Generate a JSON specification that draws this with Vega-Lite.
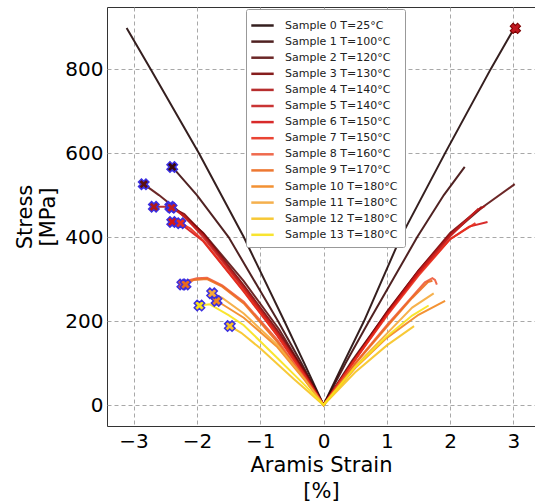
{
  "$schema": "https://vega.github.io/schema/vega-lite/v6.json",
  "width": 428,
  "height": 419,
  "autosize": {"type": "none"},
  "padding": {"left": 107, "top": 7, "right": 0, "bottom": 78},
  "background": "white",
  "config": {
    "font": "DejaVu Sans",
    "view": {"stroke": "#333333", "strokeWidth": 1},
    "axis": {
      "labelFont": "DejaVu Sans",
      "titleFont": "DejaVu Sans",
      "labelFontSize": 20,
      "titleFontSize": 21,
      "titleFontWeight": "normal",
      "labelColor": "#000000",
      "titleColor": "#000000",
      "domain": false,
      "ticks": false,
      "gridColor": "#a8a8a8",
      "gridDash": [4, 3],
      "gridWidth": 1
    }
  },
  "datasets": {
    "curves": [
      {"sample": "Sample 0 T=25°C", "strain": -3.11, "stress": 898},
      {"sample": "Sample 0 T=25°C", "strain": -2.73, "stress": 800},
      {"sample": "Sample 0 T=25°C", "strain": -1.97, "stress": 600},
      {"sample": "Sample 0 T=25°C", "strain": -1.26, "stress": 400},
      {"sample": "Sample 0 T=25°C", "strain": -0.62, "stress": 200},
      {"sample": "Sample 0 T=25°C", "strain": -0.3, "stress": 98},
      {"sample": "Sample 0 T=25°C", "strain": 0, "stress": 0},
      {"sample": "Sample 0 T=25°C", "strain": 0.3, "stress": 95},
      {"sample": "Sample 0 T=25°C", "strain": 0.64, "stress": 200},
      {"sample": "Sample 0 T=25°C", "strain": 1.22, "stress": 400},
      {"sample": "Sample 0 T=25°C", "strain": 1.92, "stress": 600},
      {"sample": "Sample 0 T=25°C", "strain": 2.64, "stress": 800},
      {"sample": "Sample 0 T=25°C", "strain": 3.01, "stress": 897},

      {"sample": "Sample 1 T=100°C", "strain": -2.39, "stress": 567},
      {"sample": "Sample 1 T=100°C", "strain": -2.0, "stress": 500},
      {"sample": "Sample 1 T=100°C", "strain": -1.5, "stress": 400},
      {"sample": "Sample 1 T=100°C", "strain": -0.72, "stress": 200},
      {"sample": "Sample 1 T=100°C", "strain": -0.35, "stress": 100},
      {"sample": "Sample 1 T=100°C", "strain": 0, "stress": 0},
      {"sample": "Sample 1 T=100°C", "strain": 0.35, "stress": 100},
      {"sample": "Sample 1 T=100°C", "strain": 0.72, "stress": 200},
      {"sample": "Sample 1 T=100°C", "strain": 1.48, "stress": 400},
      {"sample": "Sample 1 T=100°C", "strain": 1.9, "stress": 500},
      {"sample": "Sample 1 T=100°C", "strain": 2.23, "stress": 567},

      {"sample": "Sample 2 T=120°C", "strain": -2.84, "stress": 526},
      {"sample": "Sample 2 T=120°C", "strain": -2.6, "stress": 500},
      {"sample": "Sample 2 T=120°C", "strain": -2.35, "stress": 470},
      {"sample": "Sample 2 T=120°C", "strain": -1.9, "stress": 410},
      {"sample": "Sample 2 T=120°C", "strain": -1.26, "stress": 295},
      {"sample": "Sample 2 T=120°C", "strain": -0.7, "stress": 180},
      {"sample": "Sample 2 T=120°C", "strain": -0.3, "stress": 80},
      {"sample": "Sample 2 T=120°C", "strain": 0, "stress": 0},
      {"sample": "Sample 2 T=120°C", "strain": 0.45, "stress": 105},
      {"sample": "Sample 2 T=120°C", "strain": 1.0, "stress": 220},
      {"sample": "Sample 2 T=120°C", "strain": 1.5, "stress": 320},
      {"sample": "Sample 2 T=120°C", "strain": 2.0, "stress": 405},
      {"sample": "Sample 2 T=120°C", "strain": 2.5, "stress": 470},
      {"sample": "Sample 2 T=120°C", "strain": 3.02, "stress": 526},

      {"sample": "Sample 3 T=130°C", "strain": -2.42, "stress": 472},
      {"sample": "Sample 3 T=130°C", "strain": -2.2, "stress": 455},
      {"sample": "Sample 3 T=130°C", "strain": -1.9, "stress": 408},
      {"sample": "Sample 3 T=130°C", "strain": -1.26, "stress": 285},
      {"sample": "Sample 3 T=130°C", "strain": -0.73, "stress": 178},
      {"sample": "Sample 3 T=130°C", "strain": -0.3, "stress": 80},
      {"sample": "Sample 3 T=130°C", "strain": 0, "stress": 0},
      {"sample": "Sample 3 T=130°C", "strain": 0.5, "stress": 112},
      {"sample": "Sample 3 T=130°C", "strain": 1.0, "stress": 222},
      {"sample": "Sample 3 T=130°C", "strain": 1.5, "stress": 320},
      {"sample": "Sample 3 T=130°C", "strain": 2.0, "stress": 410},
      {"sample": "Sample 3 T=130°C", "strain": 2.5, "stress": 472},

      {"sample": "Sample 4 T=140°C", "strain": -2.68, "stress": 472},
      {"sample": "Sample 4 T=140°C", "strain": -2.5, "stress": 472},
      {"sample": "Sample 4 T=140°C", "strain": -2.3, "stress": 462},
      {"sample": "Sample 4 T=140°C", "strain": -1.9, "stress": 405},
      {"sample": "Sample 4 T=140°C", "strain": -1.26, "stress": 280},
      {"sample": "Sample 4 T=140°C", "strain": -0.73, "stress": 172},
      {"sample": "Sample 4 T=140°C", "strain": -0.3, "stress": 75},
      {"sample": "Sample 4 T=140°C", "strain": 0, "stress": 0},
      {"sample": "Sample 4 T=140°C", "strain": 0.5, "stress": 110},
      {"sample": "Sample 4 T=140°C", "strain": 1.0, "stress": 218},
      {"sample": "Sample 4 T=140°C", "strain": 1.5, "stress": 318},
      {"sample": "Sample 4 T=140°C", "strain": 2.0, "stress": 405},
      {"sample": "Sample 4 T=140°C", "strain": 2.4, "stress": 460},
      {"sample": "Sample 4 T=140°C", "strain": 2.55, "stress": 474},

      {"sample": "Sample 5 T=140°C", "strain": -2.4, "stress": 470},
      {"sample": "Sample 5 T=140°C", "strain": -2.2, "stress": 450},
      {"sample": "Sample 5 T=140°C", "strain": -1.9, "stress": 400},
      {"sample": "Sample 5 T=140°C", "strain": -1.26, "stress": 278},
      {"sample": "Sample 5 T=140°C", "strain": -0.73, "stress": 170},
      {"sample": "Sample 5 T=140°C", "strain": -0.3, "stress": 72},
      {"sample": "Sample 5 T=140°C", "strain": 0, "stress": 0},
      {"sample": "Sample 5 T=140°C", "strain": 0.5, "stress": 108},
      {"sample": "Sample 5 T=140°C", "strain": 1.0, "stress": 215},
      {"sample": "Sample 5 T=140°C", "strain": 1.5, "stress": 315},
      {"sample": "Sample 5 T=140°C", "strain": 2.0, "stress": 402},
      {"sample": "Sample 5 T=140°C", "strain": 2.45, "stress": 468},

      {"sample": "Sample 6 T=150°C", "strain": -2.39, "stress": 436},
      {"sample": "Sample 6 T=150°C", "strain": -2.2, "stress": 425},
      {"sample": "Sample 6 T=150°C", "strain": -1.9, "stress": 390},
      {"sample": "Sample 6 T=150°C", "strain": -1.26, "stress": 270},
      {"sample": "Sample 6 T=150°C", "strain": -0.73, "stress": 165},
      {"sample": "Sample 6 T=150°C", "strain": -0.3, "stress": 70},
      {"sample": "Sample 6 T=150°C", "strain": 0, "stress": 0},
      {"sample": "Sample 6 T=150°C", "strain": 0.5, "stress": 110},
      {"sample": "Sample 6 T=150°C", "strain": 1.0, "stress": 215},
      {"sample": "Sample 6 T=150°C", "strain": 1.5, "stress": 312},
      {"sample": "Sample 6 T=150°C", "strain": 2.0, "stress": 395},
      {"sample": "Sample 6 T=150°C", "strain": 2.3, "stress": 425},
      {"sample": "Sample 6 T=150°C", "strain": 2.59, "stress": 436},

      {"sample": "Sample 7 T=150°C", "strain": -2.26, "stress": 433},
      {"sample": "Sample 7 T=150°C", "strain": -2.1, "stress": 420},
      {"sample": "Sample 7 T=150°C", "strain": -1.9, "stress": 392},
      {"sample": "Sample 7 T=150°C", "strain": -1.26, "stress": 272},
      {"sample": "Sample 7 T=150°C", "strain": -0.73, "stress": 166},
      {"sample": "Sample 7 T=150°C", "strain": -0.3, "stress": 70},
      {"sample": "Sample 7 T=150°C", "strain": 0, "stress": 0},
      {"sample": "Sample 7 T=150°C", "strain": 0.5, "stress": 108},
      {"sample": "Sample 7 T=150°C", "strain": 1.0, "stress": 212},
      {"sample": "Sample 7 T=150°C", "strain": 1.5, "stress": 308},
      {"sample": "Sample 7 T=150°C", "strain": 2.0, "stress": 395},
      {"sample": "Sample 7 T=150°C", "strain": 2.4, "stress": 433},

      {"sample": "Sample 8 T=160°C", "strain": -2.23, "stress": 287},
      {"sample": "Sample 8 T=160°C", "strain": -2.15, "stress": 296},
      {"sample": "Sample 8 T=160°C", "strain": -2.0, "stress": 302},
      {"sample": "Sample 8 T=160°C", "strain": -1.84, "stress": 303},
      {"sample": "Sample 8 T=160°C", "strain": -1.6, "stress": 285},
      {"sample": "Sample 8 T=160°C", "strain": -1.26, "stress": 246},
      {"sample": "Sample 8 T=160°C", "strain": -0.73, "stress": 155},
      {"sample": "Sample 8 T=160°C", "strain": -0.3, "stress": 65},
      {"sample": "Sample 8 T=160°C", "strain": 0, "stress": 0},
      {"sample": "Sample 8 T=160°C", "strain": 0.5, "stress": 100},
      {"sample": "Sample 8 T=160°C", "strain": 1.0, "stress": 190},
      {"sample": "Sample 8 T=160°C", "strain": 1.4, "stress": 258},
      {"sample": "Sample 8 T=160°C", "strain": 1.6, "stress": 292},
      {"sample": "Sample 8 T=160°C", "strain": 1.72, "stress": 302},
      {"sample": "Sample 8 T=160°C", "strain": 1.76, "stress": 298},
      {"sample": "Sample 8 T=160°C", "strain": 1.79, "stress": 287},

      {"sample": "Sample 9 T=170°C", "strain": -2.18, "stress": 287},
      {"sample": "Sample 9 T=170°C", "strain": -2.05, "stress": 298},
      {"sample": "Sample 9 T=170°C", "strain": -1.84, "stress": 300},
      {"sample": "Sample 9 T=170°C", "strain": -1.6, "stress": 282},
      {"sample": "Sample 9 T=170°C", "strain": -1.26, "stress": 242},
      {"sample": "Sample 9 T=170°C", "strain": -0.73, "stress": 150},
      {"sample": "Sample 9 T=170°C", "strain": -0.3, "stress": 62},
      {"sample": "Sample 9 T=170°C", "strain": 0, "stress": 0},
      {"sample": "Sample 9 T=170°C", "strain": 0.5, "stress": 98},
      {"sample": "Sample 9 T=170°C", "strain": 1.0, "stress": 186},
      {"sample": "Sample 9 T=170°C", "strain": 1.4, "stress": 255},
      {"sample": "Sample 9 T=170°C", "strain": 1.65, "stress": 293},
      {"sample": "Sample 9 T=170°C", "strain": 1.72, "stress": 296},

      {"sample": "Sample 10 T=180°C", "strain": -1.69, "stress": 248},
      {"sample": "Sample 10 T=180°C", "strain": -1.6, "stress": 240},
      {"sample": "Sample 10 T=180°C", "strain": -1.26, "stress": 208},
      {"sample": "Sample 10 T=180°C", "strain": -0.73, "stress": 138},
      {"sample": "Sample 10 T=180°C", "strain": -0.3, "stress": 60},
      {"sample": "Sample 10 T=180°C", "strain": 0, "stress": 0},
      {"sample": "Sample 10 T=180°C", "strain": 0.5, "stress": 88},
      {"sample": "Sample 10 T=180°C", "strain": 1.0, "stress": 160},
      {"sample": "Sample 10 T=180°C", "strain": 1.5, "stress": 215},
      {"sample": "Sample 10 T=180°C", "strain": 1.92, "stress": 248},

      {"sample": "Sample 11 T=180°C", "strain": -1.76, "stress": 266},
      {"sample": "Sample 11 T=180°C", "strain": -1.6, "stress": 255},
      {"sample": "Sample 11 T=180°C", "strain": -1.26, "stress": 218},
      {"sample": "Sample 11 T=180°C", "strain": -0.73, "stress": 143},
      {"sample": "Sample 11 T=180°C", "strain": -0.3, "stress": 62},
      {"sample": "Sample 11 T=180°C", "strain": 0, "stress": 0},
      {"sample": "Sample 11 T=180°C", "strain": 0.5, "stress": 92},
      {"sample": "Sample 11 T=180°C", "strain": 1.0, "stress": 170},
      {"sample": "Sample 11 T=180°C", "strain": 1.4, "stress": 232},
      {"sample": "Sample 11 T=180°C", "strain": 1.74, "stress": 266},

      {"sample": "Sample 12 T=180°C", "strain": -1.48, "stress": 188},
      {"sample": "Sample 12 T=180°C", "strain": -1.3, "stress": 172},
      {"sample": "Sample 12 T=180°C", "strain": -1.0, "stress": 135},
      {"sample": "Sample 12 T=180°C", "strain": -0.47, "stress": 62},
      {"sample": "Sample 12 T=180°C", "strain": 0, "stress": 0},
      {"sample": "Sample 12 T=180°C", "strain": 0.5, "stress": 78},
      {"sample": "Sample 12 T=180°C", "strain": 1.0, "stress": 142},
      {"sample": "Sample 12 T=180°C", "strain": 1.43, "stress": 188},

      {"sample": "Sample 13 T=180°C", "strain": -1.96, "stress": 237},
      {"sample": "Sample 13 T=180°C", "strain": -1.8, "stress": 240},
      {"sample": "Sample 13 T=180°C", "strain": -1.5, "stress": 214},
      {"sample": "Sample 13 T=180°C", "strain": -1.26, "stress": 190},
      {"sample": "Sample 13 T=180°C", "strain": -0.73, "stress": 112},
      {"sample": "Sample 13 T=180°C", "strain": -0.3, "stress": 48},
      {"sample": "Sample 13 T=180°C", "strain": 0, "stress": 0},
      {"sample": "Sample 13 T=180°C", "strain": 0.5, "stress": 90},
      {"sample": "Sample 13 T=180°C", "strain": 1.0, "stress": 163},
      {"sample": "Sample 13 T=180°C", "strain": 1.4, "stress": 213},
      {"sample": "Sample 13 T=180°C", "strain": 1.66, "stress": 237}
    ],
    "failures": [
      {"sample": "Sample 1 T=100°C", "strain": -2.39, "stress": 567},
      {"sample": "Sample 2 T=120°C", "strain": -2.84, "stress": 526},
      {"sample": "Sample 3 T=130°C", "strain": -2.42, "stress": 472},
      {"sample": "Sample 4 T=140°C", "strain": -2.68, "stress": 472},
      {"sample": "Sample 5 T=140°C", "strain": -2.4, "stress": 470},
      {"sample": "Sample 6 T=150°C", "strain": -2.39, "stress": 436},
      {"sample": "Sample 7 T=150°C", "strain": -2.26, "stress": 433},
      {"sample": "Sample 8 T=160°C", "strain": -2.23, "stress": 287},
      {"sample": "Sample 9 T=170°C", "strain": -2.18, "stress": 287},
      {"sample": "Sample 10 T=180°C", "strain": -1.69, "stress": 248},
      {"sample": "Sample 11 T=180°C", "strain": -1.76, "stress": 266},
      {"sample": "Sample 12 T=180°C", "strain": -1.48, "stress": 188},
      {"sample": "Sample 13 T=180°C", "strain": -1.96, "stress": 237}
    ],
    "topfail": [
      {"sample": "Sample 0 T=25°C", "strain": 3.03, "stress": 897}
    ]
  },
  "layer": [
    {
      "data": {"name": "curves"},
      "mark": {"type": "line", "strokeWidth": 2, "opacity": 0.9},
      "encoding": {
        "x": {
          "field": "strain", "type": "quantitative",
          "scale": {"domain": [-3.42, 3.34], "nice": false, "zero": false},
          "axis": {"values": [-3, -2, -1, 0, 1, 2, 3], "format": "d", "title": ["Aramis Strain", "[%]"], "labelPadding": 5, "titlePadding": 3, "titleLineHeight": 26, "labelFlush": false}
        },
        "y": {
          "field": "stress", "type": "quantitative",
          "scale": {"domain": [-50, 948], "nice": false, "zero": false},
          "axis": {"values": [0, 200, 400, 600, 800], "format": "d", "title": ["Stress", "[MPa]"], "labelPadding": 4, "titlePadding": 6, "titleLineHeight": 23}
        },
        "color": {
          "field": "sample", "type": "nominal",
          "scale": {
            "domain": ["Sample 0 T=25°C", "Sample 1 T=100°C", "Sample 2 T=120°C", "Sample 3 T=130°C", "Sample 4 T=140°C", "Sample 5 T=140°C", "Sample 6 T=150°C", "Sample 7 T=150°C", "Sample 8 T=160°C", "Sample 9 T=170°C", "Sample 10 T=180°C", "Sample 11 T=180°C", "Sample 12 T=180°C", "Sample 13 T=180°C"],
            "range": ["#1f0707", "#3d0a0a", "#5c1010", "#7a0505", "#b01818", "#c41f1f", "#d41414", "#e8301e", "#ee5a3a", "#ec6a1c", "#f2861e", "#f5a83a", "#f7c321", "#f8e21a"]
          },
          "legend": {
            "title": null,
            "orient": "none",
            "legendX": 139,
            "legendY": 2,
            "symbolType": "M-1.4,0L1.4,0",
            "symbolSize": 256,
            "symbolStrokeWidth": 2.5,
            "labelFont": "DejaVu Sans",
            "labelFontSize": 11,
            "labelColor": "#222222",
            "labelOffset": 13,
            "rowPadding": 1.1,
            "padding": 7,
            "strokeColor": "#999999",
            "fillColor": "white",
            "cornerRadius": 2
          }
        }
      }
    },
    {
      "data": {"name": "failures"},
      "mark": {"type": "point", "shape": "cross", "angle": 45, "size": 110, "filled": true, "stroke": "#3a2ee0", "strokeWidth": 1.5, "opacity": 1},
      "encoding": {
        "x": {"field": "strain", "type": "quantitative"},
        "y": {"field": "stress", "type": "quantitative"},
        "fill": {
          "field": "sample", "type": "nominal", "legend": null,
          "scale": {
            "domain": ["Sample 0 T=25°C", "Sample 1 T=100°C", "Sample 2 T=120°C", "Sample 3 T=130°C", "Sample 4 T=140°C", "Sample 5 T=140°C", "Sample 6 T=150°C", "Sample 7 T=150°C", "Sample 8 T=160°C", "Sample 9 T=170°C", "Sample 10 T=180°C", "Sample 11 T=180°C", "Sample 12 T=180°C", "Sample 13 T=180°C"],
            "range": ["#1f0707", "#3d0a0a", "#5c1010", "#7a0505", "#b01818", "#c41f1f", "#d41414", "#e8301e", "#ee5a3a", "#ec6a1c", "#f2861e", "#f5a83a", "#f7c321", "#f8e21a"]
          }
        }
      }
    },
    {
      "data": {"name": "topfail"},
      "mark": {"type": "point", "shape": "cross", "angle": 45, "size": 110, "filled": true, "fill": "#c01820", "stroke": "#7a0000", "strokeWidth": 1, "opacity": 1},
      "encoding": {
        "x": {"field": "strain", "type": "quantitative"},
        "y": {"field": "stress", "type": "quantitative"}
      }
    }
  ]
}
